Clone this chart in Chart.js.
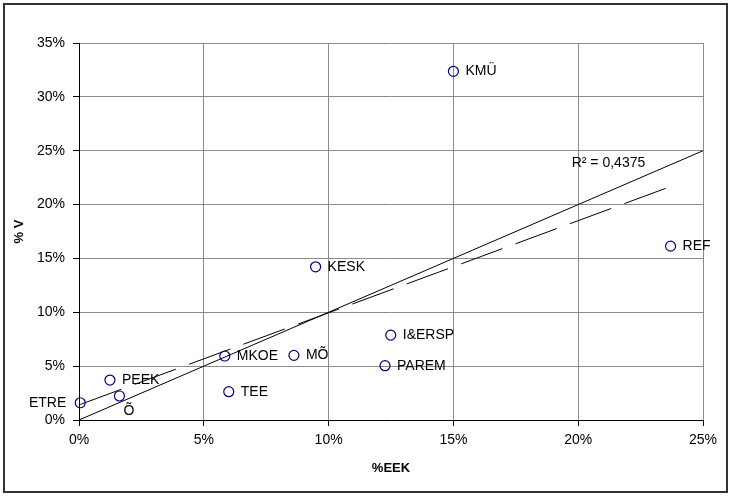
<!DOCTYPE html>
<html>
<head>
<meta charset="utf-8">
<script src="https://cdn.jsdelivr.net/npm/chart.js@4/dist/chart.umd.min.js"></script>
<style>
  html, body { margin: 0; padding: 0; background: #fff; }
  canvas { display: block; }
</style>
</head>
<body>
<canvas id="chart" width="731" height="496"></canvas>
<script>
// Units and their shares (%)
const units    = ['ETRE', 'Õ', 'PEEK', 'TEE', 'MKOE', 'MÕ', 'KESK', 'PAREM', 'I&ERSP', 'KMÜ', 'REF'];
const shareEEK = [0.05, 1.62, 1.24, 6.0, 5.84, 8.61, 9.48, 12.26, 12.49, 15.0, 23.7];
const shareV   = [1.6, 2.23, 3.71, 2.63, 5.94, 6.0, 14.22, 5.04, 7.88, 32.37, 16.14];

// Reference diagonal %V = %EEK
const diagonal = [0, 25];

// Axis ranges and tick step
const xRange = [0, 25];
const yRange = [0, 35];
const tickStep = 5;

const rSquaredText = 'R² = 0,4375';

// Least-squares trend line over the units
function trendLine(xs, ys) {
  const n = xs.length;
  const mx = xs.reduce((a, b) => a + b, 0) / n;
  const my = ys.reduce((a, b) => a + b, 0) / n;
  let sxy = 0, sxx = 0;
  for (let i = 0; i < n; i++) {
    sxy += (xs[i] - mx) * (ys[i] - my);
    sxx += (xs[i] - mx) * (xs[i] - mx);
  }
  const slope = sxy / sxx;
  const icpt = my - slope * mx;
  const x0 = Math.min(...xs), x1 = Math.max(...xs);
  return [{ x: x0, y: icpt + slope * x0 }, { x: x1, y: icpt + slope * x1 }];
}

const FONT = 'Liberation Sans, Arial, sans-serif';

// White page with a dark frame round the whole chart
const framePlugin = {
  id: 'frame',
  beforeDraw(chart) {
    const ctx = chart.ctx;
    ctx.save();
    ctx.fillStyle = '#fff';
    ctx.fillRect(0, 0, chart.width, chart.height);
    ctx.strokeStyle = '#333';
    ctx.lineWidth = 2;
    ctx.strokeRect(4, 4, 723, 488);
    ctx.restore();
  }
};

// Unit names beside the markers, plus the R² note
const labelPlugin = {
  id: 'unitLabels',
  afterDatasetsDraw(chart) {
    const ctx = chart.ctx;
    const meta = chart.getDatasetMeta(0);
    ctx.save();
    ctx.font = '14px ' + FONT;
    ctx.fillStyle = '#000';
    meta.data.forEach((pt, i) => {
      const name = units[i];
      if (name === 'ETRE') {
        ctx.textAlign = 'right'; ctx.textBaseline = 'middle';
        ctx.fillText(name, pt.x - 14, pt.y);
      } else if (name === 'Õ') {
        ctx.textAlign = 'left'; ctx.textBaseline = 'middle';
        ctx.fillText(name, pt.x + 4, pt.y + 15);
      } else {
        ctx.textAlign = 'left'; ctx.textBaseline = 'middle';
        ctx.fillText(name, pt.x + 12, pt.y);
      }
    });
    const xs = chart.scales.x, ys = chart.scales.y;
    ctx.textAlign = 'left'; ctx.textBaseline = 'middle';
    ctx.fillText(rSquaredText, xs.getPixelForValue(19.74), ys.getPixelForValue(23.8));
    ctx.restore();
  }
};

new Chart(document.getElementById('chart'), {
  type: 'scatter',
  data: {
    datasets: [
      {
        label: 'Üksused',
        data: shareEEK.map((x, i) => ({ x: x, y: shareV[i] })),
        pointStyle: 'circle',
        pointRadius: 5,
        pointBorderColor: '#000080',
        pointBackgroundColor: 'rgba(255,255,255,0)',
        pointBorderWidth: 1.2,
        showLine: false,
        clip: false,
        order: 0
      },
      {
        label: 'Diagonaal',
        data: diagonal.map(v => ({ x: v, y: v })),
        showLine: true,
        borderColor: '#000',
        borderWidth: 1,
        pointRadius: 0,
        order: 1
      },
      {
        label: 'Trend',
        data: trendLine(shareEEK, shareV),
        showLine: true,
        borderColor: '#000',
        borderWidth: 1,
        borderDash: [44, 14],
        pointRadius: 0,
        order: 2
      }
    ]
  },
  options: {
    responsive: false,
    devicePixelRatio: 1,
    animation: false,
    events: [],
    layout: { padding: { left: 4, top: 43, right: 28, bottom: 20 } },
    plugins: {
      legend: { display: false },
      tooltip: { enabled: false }
    },
    scales: {
      x: {
        type: 'linear',
        min: xRange[0], max: xRange[1],
        ticks: {
          stepSize: tickStep,
          padding: 6,
          color: '#000',
          font: { family: FONT, size: 14 },
          callback: v => v + '%'
        },
        grid: { color: '#8c8c8c', lineWidth: 1, tickLength: 6, tickColor: '#000' },
        border: { color: '#000', width: 1 },
        title: {
          display: true, text: '%EEK', color: '#000',
          font: { family: FONT, size: 13, weight: 'bold' },
          padding: { top: 0, bottom: 0 }
        },
        afterFit(scale) { scale.height = 56; }
      },
      y: {
        type: 'linear',
        min: yRange[0], max: yRange[1],
        ticks: {
          stepSize: tickStep,
          padding: 8,
          color: '#000',
          font: { family: FONT, size: 14 },
          callback: v => v + '%'
        },
        grid: { color: '#8c8c8c', lineWidth: 1, tickLength: 6, tickColor: '#000' },
        border: { color: '#000', width: 1 },
        title: {
          display: true, text: '% V', color: '#000',
          font: { family: FONT, size: 13, weight: 'bold' },
          padding: { top: 8, bottom: 0 }
        },
        afterFit(scale) { scale.width = 75; }
      }
    }
  },
  plugins: [framePlugin, labelPlugin]
});
</script>
</body>
</html>
